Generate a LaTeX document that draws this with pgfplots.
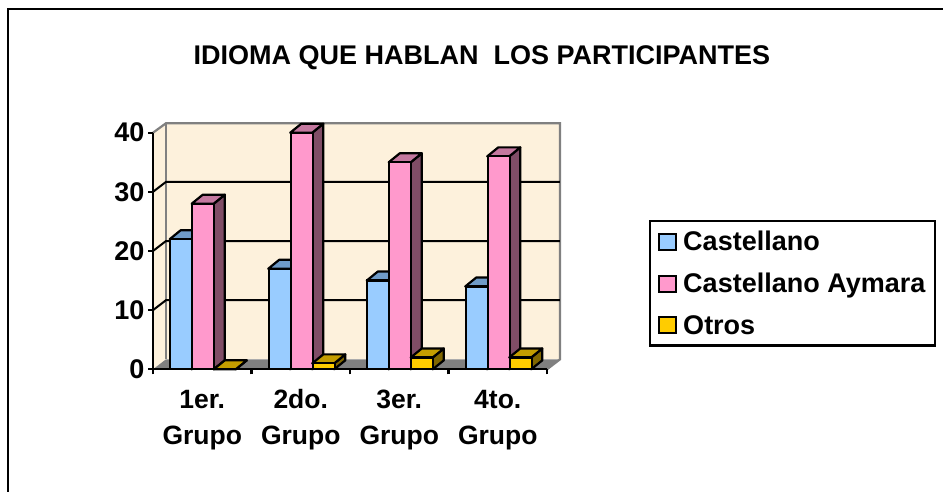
\documentclass[border=0pt]{standalone}
\usepackage{pgfplots}
\pgfplotsset{compat=1.18}
\usepackage{fontspec}
\setmainfont{Liberation Sans}
\definecolor{cblue}{HTML}{99CCFF}
\definecolor{cpink}{HTML}{FF99CC}
\definecolor{cyel}{HTML}{FFCC00}
\definecolor{tblue}{HTML}{6F9BC8}
\definecolor{tpink}{HTML}{C4789F}
\definecolor{tyel}{HTML}{C49D00}
\definecolor{sblue}{HTML}{4D6680}
\definecolor{spink}{HTML}{804D66}
\definecolor{syel}{HTML}{806600}
\definecolor{wall}{HTML}{FDF1DC}
\pgfplotsset{sq/.style={legend image code/.code={\draw[##1,draw=black,line width=2pt] (0pt,-8pt) rectangle (17pt,8pt);\path (21pt,0pt);}}}
% #1 group left edge in axis units, #2 value, #3 side colour, #4 top colour
\newcommand{\Depth}[4]{%
  \addplot[forget plot,fill=#3,draw=black,line width=2.2pt,line join=round]
    coordinates {({#1+0.2234},0) ({#1+0.2234+0.112},1.52) ({#1+0.2234+0.112},{#2+1.52}) ({#1+0.2234},#2)} --cycle;
  \addplot[forget plot,fill=#4,draw=black,line width=2.2pt,line join=round]
    coordinates {(#1,#2) ({#1+0.112},{#2+1.52}) ({#1+0.2234+0.112},{#2+1.52}) ({#1+0.2234},#2)} --cycle;
}
\begin{document}
\begin{tikzpicture}[x=1pt,y=1pt]
\useasboundingbox (0,0) rectangle (943,491);
\fill[white] (0,0) rectangle (943,491);
\draw[black,line width=2.2pt] (8.3,-5) -- (8.3,482) -- (943,482);
\begin{axis}[
  at={(153pt,121.7pt)},anchor=south west,
  scale only axis,width=394pt,height=236.6pt,
  xmin=0,xmax=4,ymin=0,ymax=40,
  clip=false,axis on top,
  axis x line*=bottom,axis y line*=left,
  axis line style={-,black,line width=2.2pt},
  tick style={black,line width=2.2pt},
  ytick={0,10,20,30,40},
  xtick={0.5,1.5,2.5,3.5},
  xticklabels={{\vphantom{d}1er.\\\vphantom{d}Grupo},{\vphantom{d}2do.\\\vphantom{d}Grupo},{\vphantom{d}3er.\\\vphantom{d}Grupo},{\vphantom{d}4to.\\\vphantom{d}Grupo}},
  minor xtick={0,1,2,3,4},
  major x tick style={draw=none},
  minor tick length=5pt,major tick length=5pt,
  tick align=outside,
  xticklabel style={align=center,font=\fontsize{26.5}{36.5}\selectfont\bfseries,yshift=-11pt},
  yticklabel style={font=\fontsize{27}{30}\selectfont\bfseries},
  /pgf/number format/assume math mode=true,
  title={IDIOMA QUE HABLAN\ \ LOS PARTICIPANTES},
  title style={at={(0.835,1.29)},anchor=center,font=\fontsize{27}{30}\selectfont\bfseries},
  legend style={at={(1.259,0.631)},anchor=north west,draw=black,line width=2.2pt,
    font=\fontsize{27}{30}\selectfont\bfseries,inner sep=8pt,row sep=17pt,cells={anchor=west}},
  legend cell align=left,
]
% walls and floor
\addplot[forget plot,fill=wall,draw=none] coordinates {(0,0) (0.132,1.69) (0.132,41.6) (0,40)} --cycle;
\addplot[forget plot,fill=wall,draw=none] coordinates {(0.132,1.69) (4.132,1.69) (4.132,41.6) (0.132,41.6)} --cycle;
\addplot[forget plot,fill=gray,draw=none] coordinates {(0,0) (0.132,1.69) (4.132,1.69) (4,0)} --cycle;
\addplot[forget plot,draw=gray,line width=2.2pt] coordinates {(0,40) (0.132,41.6) (4.132,41.6) (4.132,1.69) (4,0)};
\addplot[forget plot,draw=gray,line width=2.2pt] coordinates {(0.132,1.69) (0.132,41.6)};
% gridlines
\addplot[forget plot,draw=black,line width=2pt] coordinates {(0,10) (0.132,11.69) (4.132,11.69)};
\addplot[forget plot,draw=black,line width=2pt] coordinates {(0,20) (0.132,21.69) (4.132,21.69)};
\addplot[forget plot,draw=black,line width=2pt] coordinates {(0,30) (0.132,31.69) (4.132,31.69)};
% Castellano
\Depth{0.17}{22}{sblue}{tblue}
\Depth{1.17}{17}{sblue}{tblue}
\Depth{2.17}{15}{sblue}{tblue}
\Depth{3.17}{14}{sblue}{tblue}
\addplot[ybar,bar width=22pt,bar shift=-21pt,fill=cblue,draw=black,line width=2.2pt,sq]
  coordinates {(0.5,22) (1.5,17) (2.5,15) (3.5,14)};
\addlegendentry{Castellano}
% Castellano Aymara
\Depth{0.3934}{28}{spink}{tpink}
\Depth{1.3934}{40}{spink}{tpink}
\Depth{2.3934}{35}{spink}{tpink}
\Depth{3.3934}{36}{spink}{tpink}
\addplot[ybar,bar width=22pt,bar shift=1pt,fill=cpink,draw=black,line width=2.2pt,sq]
  coordinates {(0.5,28) (1.5,40) (2.5,35) (3.5,36)};
\addlegendentry{Castellano Aymara}
% Otros
\Depth{0.6168}{0}{syel}{tyel}
\Depth{1.6168}{1}{syel}{tyel}
\Depth{2.6168}{2}{syel}{tyel}
\Depth{3.6168}{2}{syel}{tyel}
\addplot[ybar,bar width=22pt,bar shift=23pt,fill=cyel,draw=black,line width=2.2pt,sq]
  coordinates {(0.5,0) (1.5,1) (2.5,2) (3.5,2)};
\addlegendentry{Otros}
\end{axis}
\end{tikzpicture}
\end{document}
